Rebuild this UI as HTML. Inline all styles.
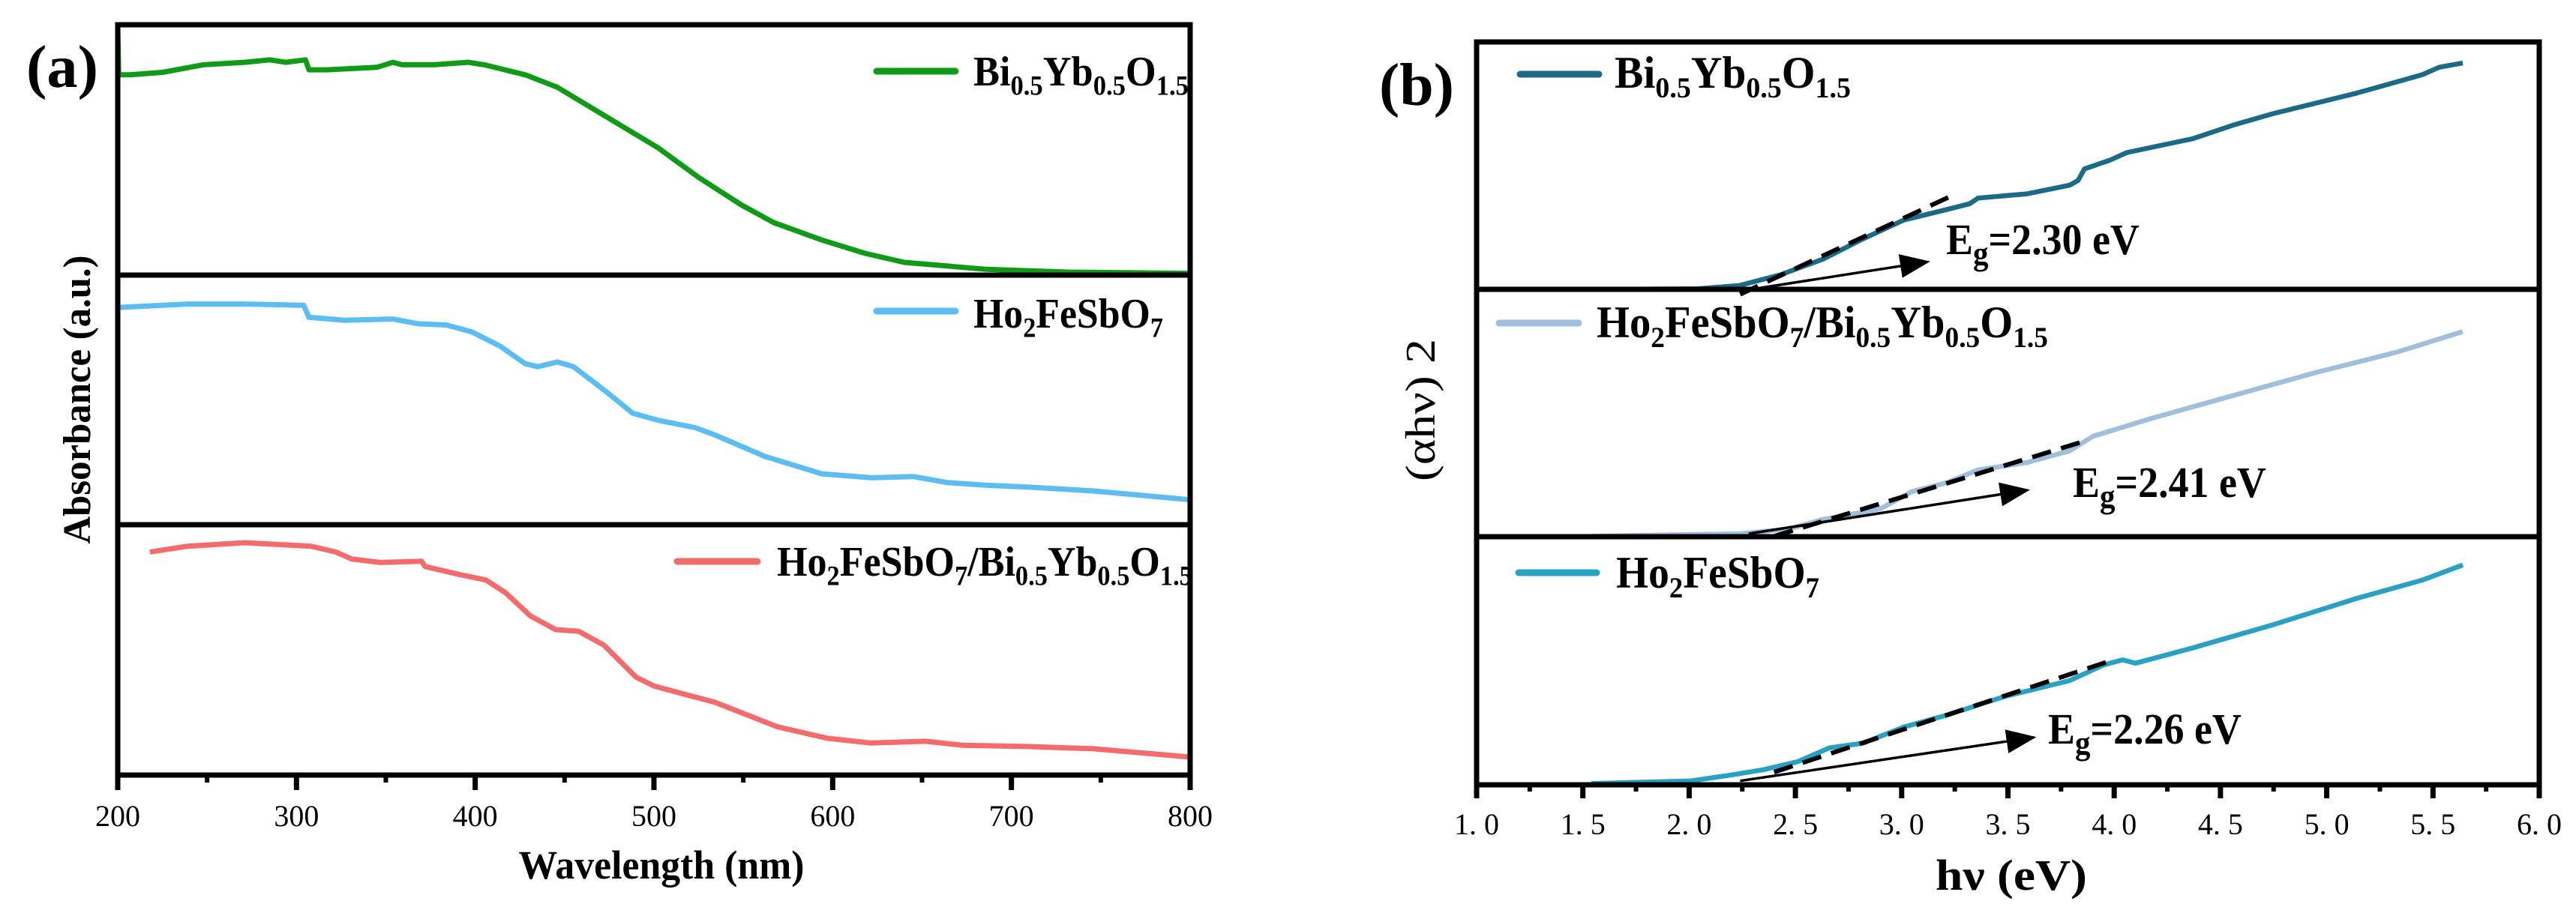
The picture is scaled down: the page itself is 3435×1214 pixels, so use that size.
<!DOCTYPE html>
<html><head><meta charset="utf-8"><style>
html,body{margin:0;padding:0;background:#fff;}
svg{display:block;}
text{font-family:"Liberation Serif","Noto Serif CJK SC",serif;}
</style></head><body>
<svg id="fig" xmlns="http://www.w3.org/2000/svg" width="3435" height="1214" viewBox="0 0 3435 1214">
<g id="plotA"></g>
<g id="plotB"></g>
</svg>
<script>
// ---------- Panel (a) data: wavelength (nm) and normalized absorbance within sub-panel ----------
const greenX = [200,200.5,207,225,248,271,285,294,305,307,317,345,354,359,377,396,405,428,446,474,502,525,549,567,594,618,640,686,732,800];
const greenY = [0.99,0.80,0.80,0.81,0.84,0.85,0.86,0.85,0.86,0.82,0.82,0.83,0.85,0.84,0.84,0.85,0.84,0.80,0.75,0.63,0.51,0.39,0.28,0.21,0.14,0.087,0.051,0.023,0.012,0.007];
const blueX = [200,239,271,304,307,327,354,368,384,398,414,428,435,446,455,474,488,502,523,534,562,594,622,645,664,686,709,746,800];
const blueY = [0.870,0.884,0.884,0.879,0.831,0.819,0.824,0.805,0.800,0.773,0.715,0.645,0.633,0.652,0.633,0.529,0.447,0.419,0.389,0.360,0.274,0.204,0.188,0.193,0.169,0.158,0.151,0.135,0.100];
const redX = [218,239,271,308,322,331,347,370,372,390,406,417,431,445,458,472,490,500,518,534,569,597,621,652,673,709,746,800];
const redY = [0.891,0.914,0.928,0.914,0.891,0.863,0.849,0.854,0.833,0.803,0.779,0.728,0.635,0.581,0.574,0.519,0.391,0.356,0.321,0.291,0.193,0.147,0.128,0.135,0.119,0.114,0.105,0.072];
const xTicksA = [200,300,400,500,600,700,800];
const xTickLabelsA = ["200","300","400","500","600","700","800"];

// ---------- Panel (b) data: photon energy (eV) and normalized (αhν)^2 ----------
const topX = [1.54,2.04,2.24,2.43,2.63,2.82,3.01,3.21,3.32,3.36,3.59,3.79,3.83,3.86,3.98,4.06,4.37,4.56,4.75,5.14,5.45,5.53,5.64];
const topY = [0.000,0.002,0.016,0.059,0.122,0.205,0.280,0.322,0.346,0.369,0.386,0.421,0.440,0.487,0.522,0.553,0.609,0.664,0.711,0.793,0.868,0.898,0.915];
const midX = [1.54,2.24,2.47,2.63,2.74,2.90,3.05,3.21,3.36,3.59,3.79,3.90,4.17,4.56,4.95,5.33,5.64];
const midY = [0.002,0.012,0.031,0.070,0.087,0.113,0.183,0.218,0.270,0.300,0.347,0.406,0.477,0.571,0.664,0.746,0.829];
const botX = [1.54,2.01,2.20,2.35,2.51,2.66,2.82,3.01,3.21,3.48,3.79,3.95,4.04,4.10,4.37,4.75,5.14,5.45,5.64];
const botY = [0.005,0.016,0.040,0.061,0.093,0.149,0.168,0.233,0.280,0.355,0.420,0.483,0.504,0.490,0.552,0.646,0.751,0.825,0.886];
const xTicksB = [1.0,1.5,2.0,2.5,3.0,3.5,4.0,4.5,5.0,5.5,6.0];
const xTickLabelsB = ["1. 0","1. 5","2. 0","2. 5","3. 0","3. 5","4. 0","4. 5","5. 0","5. 5","6. 0"];
const tangentTop = [2.24,-0.02,3.24,0.38];
const tangentMid = [2.40,0.002,3.87,0.389];
const tangentBot = [2.40,0.051,3.98,0.499];
const arrowTop = [2.24,-0.007,3.12,0.111];
const arrowMid = [2.28,0.012,3.59,0.188];
const arrowBot = [2.24,0.016,3.62,0.191];
const egLabels = ["2.30","2.41","2.26"];

const NS = "http://www.w3.org/2000/svg";
function mk(parent, tag, attrs, txt){
  const e = document.createElementNS(NS, tag);
  for (const k in attrs) e.setAttribute(k, attrs[k]);
  if (txt !== undefined) e.textContent = txt;
  parent.appendChild(e);
  return e;
}
// horizontally scale a text element so its width equals target
function fit(el, x, target){
  const w = el.getBBox().width;
  if (w > 0) {
    const s = target / w;
    el.setAttribute('transform', 'translate(' + x + ',0) scale(' + s.toFixed(4) + ',1) translate(' + (-x) + ',0)');
  }
}
function chem(parent, x, y, parts, size, len, name){
  const t = mk(parent,'text',{x:x,y:y,'font-size':size,'font-weight':'bold'});
  
  
  let sub = false;
  parts.forEach(p=>{
    if (Array.isArray(p)) { mk(t,'tspan',{dy:size*0.22,'font-size':size*0.66},p[0]); sub = true; }
    else { mk(t,'tspan',{dy: sub ? -size*0.22 : 0},p); sub = false; }
  });
  fit(t, x, len);
  return t;
}

// ================= Panel A =================
const A = document.getElementById('plotA');
const aL=157, aR=1587, aT=33, aB=1034;
const aDiv=[aT,367,700,aB];
const xA = v => aL + (v-200)/600*(aR-aL);
function yA(i, v){ const top=aDiv[i], bot=aDiv[i+1]; return bot - v*(bot-top); }
function seriesA(xs, ys, i, color, name){
  let d='';
  xs.forEach((x,k)=>{ d += (k?'L':'M') + xA(x).toFixed(1)+','+yA(i,ys[k]).toFixed(1); });
  const p = mk(A,'path',{d:d,fill:'none',stroke:color,'stroke-width':7,'stroke-linejoin':'round'});
  
  
}
seriesA(greenX, greenY, 0, '#119a17', 'series-bi-yb-o');
seriesA(blueX, blueY, 1, '#5cbdf2', 'series-ho2fesbo7');
seriesA(redX, redY, 2, '#f36b6b', 'series-composite');
const fA = mk(A,'rect',{x:aL,y:aT,width:aR-aL,height:aB-aT,fill:'none',stroke:'#000','stroke-width':7});
 
[367,700].forEach(y=>{ const l=mk(A,'line',{x1:aL,x2:aR,y1:y,y2:y,stroke:'#000','stroke-width':7});
    });
xTicksA.forEach((v,k)=>{
  const x=xA(v);
  mk(A,'line',{x1:x,x2:x,y1:aB,y2:aB+20,stroke:'#000','stroke-width':7});
  if (k<xTicksA.length-1){ const xm=xA(v+50); mk(A,'line',{x1:xm,x2:xm,y1:aB,y2:aB+10,stroke:'#000','stroke-width':6}); }
  const t=mk(A,'text',{x:x,y:1102,'font-size':40,'text-anchor':'middle'},xTickLabelsA[k]);
   
});
let t;
t=mk(A,'text',{x:882,y:1172,'font-size':54,'font-weight':'bold','text-anchor':'middle',textLength:381,lengthAdjust:'spacingAndGlyphs'},'Wavelength (nm)');
 
t=mk(A,'text',{x:0,y:0,'font-size':52,'font-weight':'bold','text-anchor':'middle',textLength:385,lengthAdjust:'spacingAndGlyphs',transform:'translate(120,533) rotate(-90)'},'Absorbance (a.u.)');
 
t=mk(A,'text',{x:35,y:116,'font-size':80,'font-weight':'bold',textLength:96,lengthAdjust:'spacingAndGlyphs'},'(a)');
 
let l;
l=mk(A,'line',{x1:1169,x2:1274,y1:95,y2:95,stroke:'#119a17','stroke-width':9,'stroke-linecap':'round'});
 
chem(A,1298,114,['Bi',['0.5'],'Yb',['0.5'],'O',['1.5']],56,287,'legend-label-bi-yb-o');
l=mk(A,'line',{x1:1169,x2:1274,y1:415,y2:415,stroke:'#5cbdf2','stroke-width':9,'stroke-linecap':'round'});
 
chem(A,1298,437,['Ho',['2'],'FeSbO',['7']],56,253,'legend-label-ho2fesbo7');
l=mk(A,'line',{x1:903,x2:1010,y1:749,y2:749,stroke:'#f36b6b','stroke-width':9,'stroke-linecap':'round'});
 
chem(A,1036,768,['Ho',['2'],'FeSbO',['7'],'/Bi',['0.5'],'Yb',['0.5'],'O',['1.5']],56,554,'legend-label-composite');

// ================= Panel B =================
const B = document.getElementById('plotB');
const bL=1969, bR=3386, bT=56, bB=1047;
const bDiv=[bT,386,716,bB];
const xB = v => bL + (v-1)/5*(bR-bL);
function yB(i, v){ const top=bDiv[i], bot=bDiv[i+1]; return bot - v*(bot-top); }
function seriesB(xs, ys, i, color, name){
  let d='';
  xs.forEach((x,k)=>{ d += (k?'L':'M') + xB(x).toFixed(1)+','+yB(i,ys[k]).toFixed(1); });
  const p = mk(B,'path',{d:d,fill:'none',stroke:color,'stroke-width':6.5,'stroke-linejoin':'round'});
  
  
}
seriesB(topX, topY, 0, '#1b6b87', 'series-bi-yb-o-tauc');
seriesB(midX, midY, 1, '#a0bfdc', 'series-composite-tauc');
seriesB(botX, botY, 2, '#2aa0c2', 'series-ho2fesbo7-tauc');
const defs = mk(B,'defs',{});
const mrk = mk(defs,'marker',{id:'arr',markerWidth:40,markerHeight:32,refX:36,refY:16,orient:'auto',markerUnits:'userSpaceOnUse'});
mk(mrk,'path',{d:'M0,0 L10,4 L0,8 z',fill:'#000',transform:'scale(4)'});
[[tangentTop,arrowTop,0],[tangentMid,arrowMid,1],[tangentBot,arrowBot,2]].forEach(([tg,ar,i])=>{
  const d=mk(B,'line',{x1:xB(tg[0]),y1:yB(i,tg[1]),x2:xB(tg[2]),y2:yB(i,tg[3]),stroke:'#000','stroke-width':6,'stroke-dasharray':'26,14'});
   
  const a=mk(B,'line',{x1:xB(ar[0]),y1:yB(i,ar[1]),x2:xB(ar[2]),y2:yB(i,ar[3]),stroke:'#000','stroke-width':3.5,'marker-end':'url(#arr)'});
   
});
const egPos=[[2595,339],[2764,663],[2731,992]];
egPos.forEach((p,k)=>{
  const e=mk(B,'text',{x:p[0],y:p[1],'font-size':58,'font-weight':'bold'});
   
  mk(e,'tspan',{},'E'); mk(e,'tspan',{dy:14,'font-size':44},'g'); mk(e,'tspan',{dy:-14},'='+egLabels[k]+' eV');
  fit(e, p[0], 258);
});
const fB = mk(B,'rect',{x:bL,y:bT,width:bR-bL,height:bB-bT,fill:'none',stroke:'#000','stroke-width':7});
 
[386,716].forEach(y=>{ const l2=mk(B,'line',{x1:bL,x2:bR,y1:y,y2:y,stroke:'#000','stroke-width':7});
    });
xTicksB.forEach((v,k)=>{
  const x=xB(v);
  mk(B,'line',{x1:x,x2:x,y1:bB,y2:bB+18,stroke:'#000','stroke-width':7});
  if (k<xTicksB.length-1){ const xm=xB(v+0.25); mk(B,'line',{x1:xm,x2:xm,y1:bB,y2:bB+9,stroke:'#000','stroke-width':6}); }
  const tt=mk(B,'text',{x:x,y:1113,'font-size':40,'text-anchor':'middle',textLength:60,lengthAdjust:'spacingAndGlyphs',style:'font-family:"Liberation Serif",serif'},xTickLabelsB[k]);
   
});
t=mk(B,'text',{x:2682,y:1187,'font-size':58,'font-weight':'bold','text-anchor':'middle',textLength:202,lengthAdjust:'spacingAndGlyphs'},'hν (eV)');
 
t=mk(B,'text',{x:0,y:0,'font-size':56,'text-anchor':'middle',textLength:190,lengthAdjust:'spacingAndGlyphs',transform:'translate(1913,547) rotate(-90)',style:'font-family:"Liberation Serif",serif'},'(αhν) 2');
 
t=mk(B,'text',{x:1839,y:140,'font-size':80,'font-weight':'bold',textLength:100,lengthAdjust:'spacingAndGlyphs'},'(b)');
 
l=mk(B,'line',{x1:2027,x2:2132,y1:99,y2:99,stroke:'#1b6b87','stroke-width':9,'stroke-linecap':'round'});
 
chem(B,2153,117,['Bi',['0.5'],'Yb',['0.5'],'O',['1.5']],60,315,'legend-label-bi-yb-o-tauc');
l=mk(B,'line',{x1:1999,x2:2105,y1:431,y2:431,stroke:'#a0bfdc','stroke-width':9,'stroke-linecap':'round'});
 
chem(B,2129,450,['Ho',['2'],'FeSbO',['7'],'/Bi',['0.5'],'Yb',['0.5'],'O',['1.5']],60,602,'legend-label-composite-tauc');
l=mk(B,'line',{x1:2025,x2:2129,y1:764,y2:764,stroke:'#2aa0c2','stroke-width':9,'stroke-linecap':'round'});
 
chem(B,2155,784,['Ho',['2'],'FeSbO',['7']],60,271,'legend-label-ho2fesbo7-tauc');
</script>
</body></html>
